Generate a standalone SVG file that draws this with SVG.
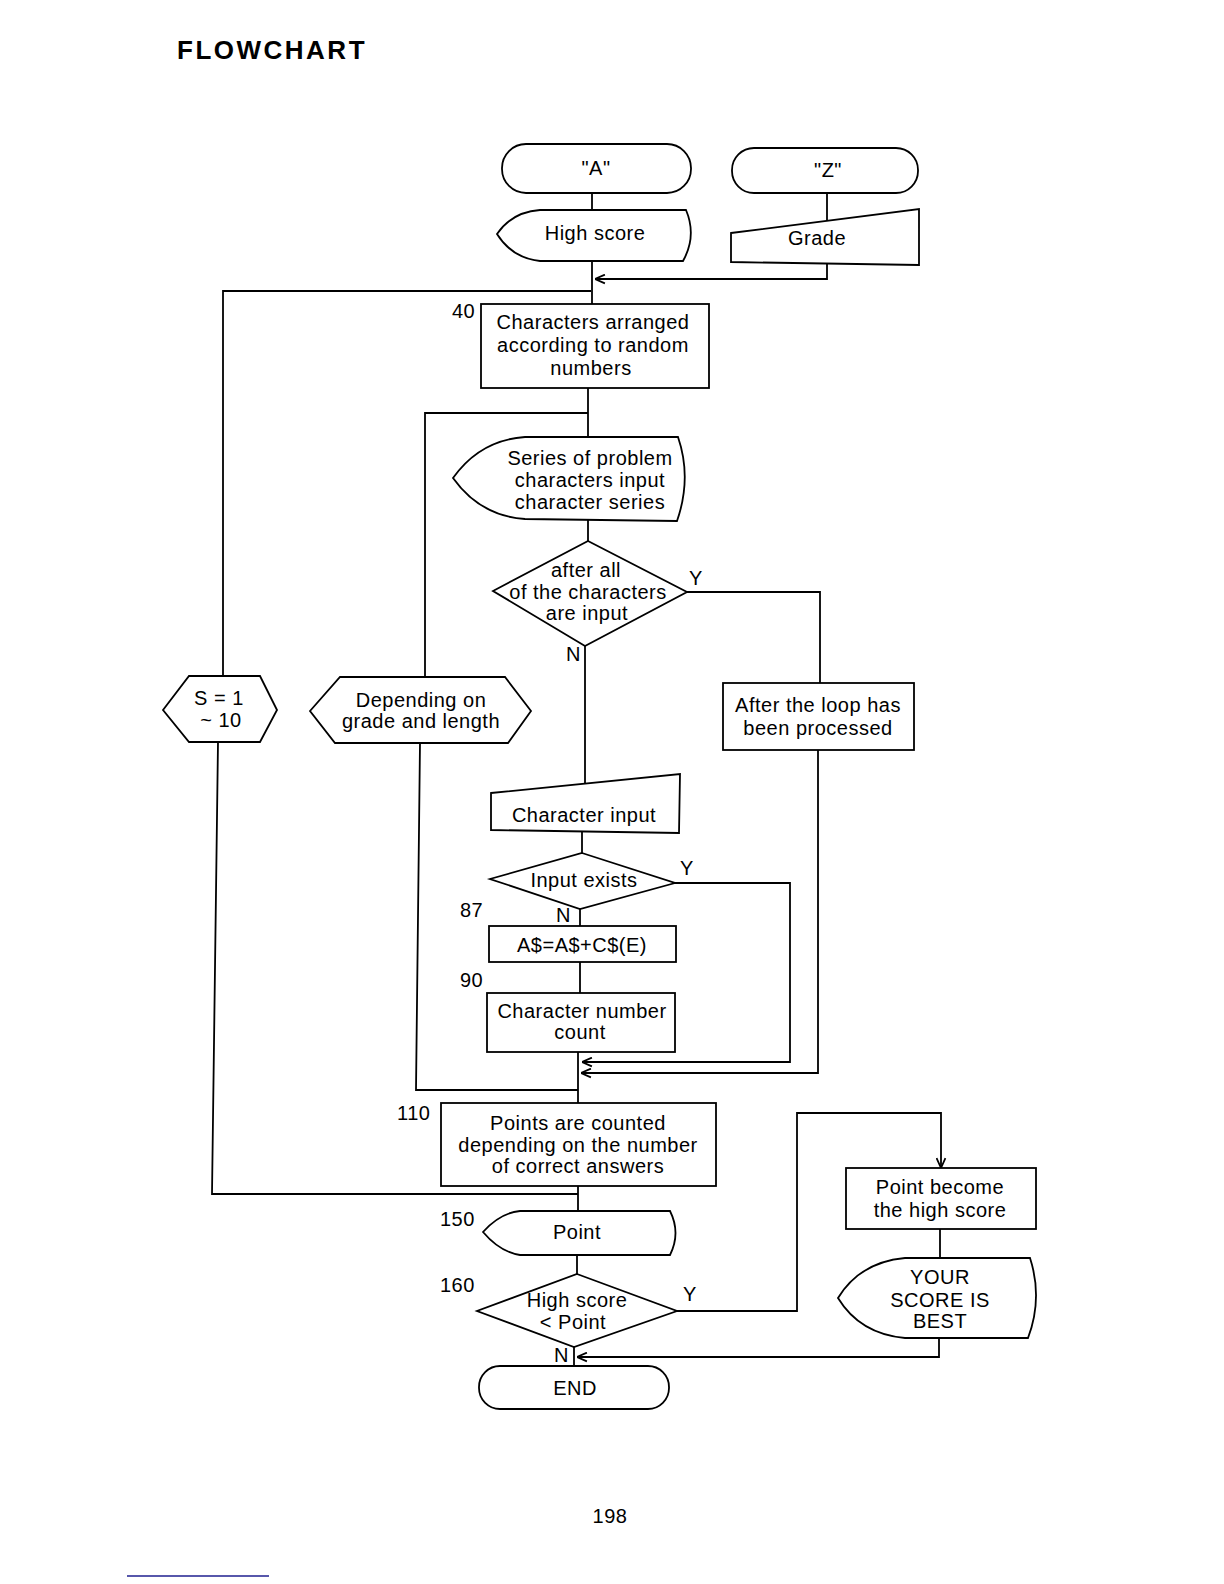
<svg xmlns="http://www.w3.org/2000/svg" width="1224" height="1584" viewBox="0 0 1224 1584">
<style>
.s{fill:#fff;stroke:#000;stroke-width:1.8;stroke-linejoin:miter}
.c{fill:none;stroke:#000;stroke-width:1.8}
text{font-family:"Liberation Sans",Arial,sans-serif;font-size:20px;fill:#000;letter-spacing:0.5px}
.m{text-anchor:middle}
.title{font-size:26px;font-weight:bold;letter-spacing:2.5px}
</style>
<defs>
<marker id="arr" viewBox="0 0 10 10" refX="10" refY="5" markerWidth="11" markerHeight="11" markerUnits="userSpaceOnUse" orient="auto">
<path d="M1,1 L10,5 L1,9" fill="none" stroke="#000" stroke-width="1.6"/>
</marker>
</defs>
<rect width="1224" height="1584" fill="#fff"/>
<text class="title" x="177" y="59">FLOWCHART</text>

<g id="connectors">
<path class="c" d="M592,193 V210"/>
<path class="c" d="M827,193 V221"/>
<path class="c" d="M827,264 V279 H595" marker-end="url(#arr)"/>
<path class="c" d="M592,261 V304"/>
<path class="c" d="M591,291 H223 V676"/>
<path class="c" d="M588,388 V437"/>
<path class="c" d="M588,413 H425 V677"/>
<path class="c" d="M588,520 V541"/>
<path class="c" d="M585,646 V784"/>
<path class="c" d="M687,592 H820 V683"/>
<path class="c" d="M818,750 V1073 H581" marker-end="url(#arr)"/>
<path class="c" d="M582,832 V853"/>
<path class="c" d="M580,909 V926"/>
<path class="c" d="M675,883 H790 V1062 H582" marker-end="url(#arr)"/>
<path class="c" d="M580,962 V993"/>
<path class="c" d="M578,1052 V1103"/>
<path class="c" d="M420,743 L416,1090 H578"/>
<path class="c" d="M218,742 L212,1194 H578"/>
<path class="c" d="M578,1186 V1211"/>
<path class="c" d="M577,1255 V1274"/>
<path class="c" d="M677,1311 H797 V1113 H941 V1168" marker-end="url(#arr)"/>
<path class="c" d="M940,1229 V1258"/>
<path class="c" d="M939,1338 V1357 H577" marker-end="url(#arr)"/>
<path class="c" d="M574,1347 V1366"/>
</g>

<g id="start-a">
<rect class="s" x="502" y="144" width="189" height="49" rx="24"/>
<text class="m" x="596" y="175">"A"</text>
</g>
<g id="start-z">
<rect class="s" x="732" y="148" width="186" height="45" rx="22"/>
<text class="m" x="828" y="177">"Z"</text>
</g>
<g id="high-score">
<path class="s" d="M497,234 Q512,212 540,210 L686,210 Q697,236 683,261 L540,261 Q512,258 497,234 Z"/>
<text class="m" x="595" y="240">High score</text>
</g>
<g id="grade">
<polygon class="s" points="731,233 919,209 919,265 731,262"/>
<text class="m" x="817" y="245">Grade</text>
</g>
<g id="n40">
<rect class="s" x="481" y="304" width="228" height="84"/>
<text x="452" y="318">40</text>
<text class="m" x="593" y="329">Characters arranged</text>
<text class="m" x="593" y="352">according to random</text>
<text class="m" x="591" y="375">numbers</text>
</g>
<g id="series">
<path class="s" d="M453,478 Q480,440 525,437 L678,437 Q692,478 677,521 L525,519 Q480,516 453,478 Z"/>
<text class="m" x="590" y="465">Series of problem</text>
<text class="m" x="590" y="487">characters input</text>
<text class="m" x="590" y="509">character series</text>
</g>
<g id="all-input">
<polygon class="s" points="588,541 687,592 585,646 493,591"/>
<text class="m" x="586" y="577">after all</text>
<text class="m" x="588" y="599">of the characters</text>
<text class="m" x="587" y="620">are input</text>
<text x="689" y="585">Y</text>
<text x="566" y="661">N</text>
</g>
<g id="after-loop">
<rect class="s" x="723" y="683" width="191" height="67"/>
<text class="m" x="818" y="712">After the loop has</text>
<text class="m" x="818" y="735">been processed</text>
</g>
<g id="s-loop">
<polygon class="s" points="163,710 189,676 260,676 277,710 260,742 189,742"/>
<text class="m" x="219" y="705">S = 1</text>
<text class="m" x="221" y="727">~ 10</text>
</g>
<g id="depending">
<polygon class="s" points="310,711 340,677 505,677 531,711 508,743 335,743"/>
<text class="m" x="421" y="707">Depending on</text>
<text class="m" x="421" y="728">grade and length</text>
</g>
<g id="char-input">
<polygon class="s" points="491,793 680,774 679,833 491,830"/>
<text class="m" x="584" y="822">Character input</text>
</g>
<g id="input-exists">
<polygon class="s" points="582,853 675,883 580,909 490,879"/>
<text class="m" x="584" y="887">Input exists</text>
<text x="680" y="875">Y</text>
<text x="556" y="922">N</text>
</g>
<g id="n87">
<rect class="s" x="489" y="926" width="187" height="36"/>
<text x="460" y="917">87</text>
<text class="m" x="582" y="952">A$=A$+C$(E)</text>
</g>
<g id="n90">
<rect class="s" x="487" y="993" width="188" height="59"/>
<text x="460" y="987">90</text>
<text class="m" x="582" y="1018">Character number</text>
<text class="m" x="580" y="1039">count</text>
</g>
<g id="n110">
<rect class="s" x="441" y="1103" width="275" height="83"/>
<text x="397" y="1120">110</text>
<text class="m" x="578" y="1130">Points are counted</text>
<text class="m" x="578" y="1152">depending on the number</text>
<text class="m" x="578" y="1173">of correct answers</text>
</g>
<g id="point">
<path class="s" d="M483,1232 Q500,1213 520,1211 L670,1211 Q681,1233 670,1255 L520,1255 Q500,1252 483,1232 Z"/>
<text x="440" y="1226">150</text>
<text class="m" x="577" y="1239">Point</text>
</g>
<g id="compare">
<polygon class="s" points="577,1274 677,1311 574,1347 477,1311"/>
<text x="440" y="1292">160</text>
<text class="m" x="577" y="1307">High score</text>
<text class="m" x="573" y="1329">&lt; Point</text>
<text x="683" y="1301">Y</text>
<text x="554" y="1362">N</text>
</g>
<g id="become-high">
<rect class="s" x="846" y="1168" width="190" height="61"/>
<text class="m" x="940" y="1194">Point become</text>
<text class="m" x="940" y="1217">the high score</text>
</g>
<g id="your-score">
<path class="s" d="M838,1298 Q860,1262 905,1258 L1030,1258 Q1043,1298 1028,1338 L905,1338 Q860,1334 838,1298 Z"/>
<text class="m" x="940" y="1284">YOUR</text>
<text class="m" x="940" y="1307">SCORE IS</text>
<text class="m" x="940" y="1328">BEST</text>
</g>
<g id="end">
<rect class="s" x="479" y="1366" width="190" height="43" rx="21"/>
<text class="m" x="575" y="1395">END</text>
</g>
<text class="m" x="610" y="1523">198</text>
<line x1="127" y1="1576" x2="269" y2="1576" stroke="#1f1f8f" stroke-width="1.5"/>
</svg>
